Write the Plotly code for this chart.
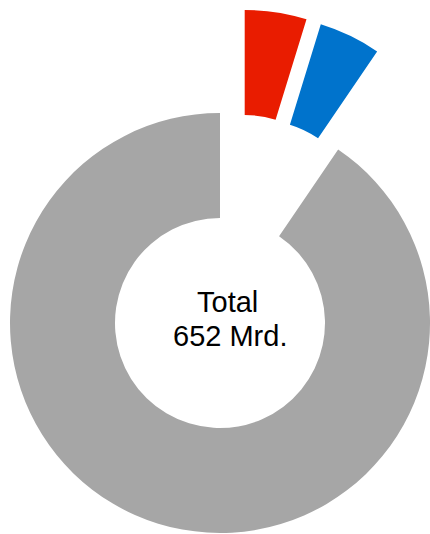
import plotly.graph_objects as go

# Data
labels = ["Rot", "Blau", "Rest"]
values = [31, 31, 590]
colors = ["#E91C00", "#0073CC", "#A6A6A6"]
center_text = ["Total", "652 Mrd."]

W, H = 470, 534

def dom(cx, cy, r):
    return dict(x=[(cx - r) / W, (cx + r) / W],
                y=[1 - (cy + r) / H, 1 - (cy - r) / H])

R = 210
pieces = [
    # (visible slice index, center x, center y) in page pixels
    (2, 220, 323),
    (0, 244.7, 220),
    (1, 259, 225),
]

fig = go.Figure()
for idx, cx, cy in pieces:
    cols = [c if i == idx else "rgba(0,0,0,0)" for i, c in enumerate(colors)]
    fig.add_trace(go.Pie(
        labels=labels, values=values, sort=False, direction="clockwise",
        rotation=0, hole=0.5, textinfo="none", hoverinfo="label+value",
        marker=dict(colors=cols, line=dict(width=0)),
        domain=dom(cx, cy, R),
        showlegend=False,
    ))

fig.add_annotation(x=227 / W, y=1 - 302 / H, xref="paper", yref="paper",
                   text=center_text[0], showarrow=False,
                   font=dict(family="Liberation Sans, Arial", size=29, color="#000"))
fig.add_annotation(x=229.7 / W, y=1 - 336 / H, xref="paper", yref="paper",
                   text=center_text[1], showarrow=False,
                   font=dict(family="Liberation Sans, Arial", size=29, color="#000"))

fig.update_layout(width=W, height=H, margin=dict(l=0, r=0, t=0, b=0),
                  paper_bgcolor="white", plot_bgcolor="white")
fig.write_html("out.html", config={"displayModeBar": False},
               post_script="document.body.style.margin='0';document.body.style.overflow='hidden';")
